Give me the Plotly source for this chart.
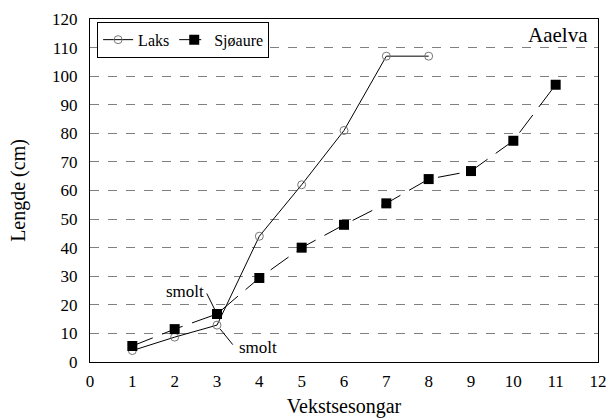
import plotly.graph_objects as go

seasons_laks = [1, 2, 3, 4, 5, 6, 7, 8]
laks = [4, 8.7, 12.9, 44, 62, 81, 107, 107]
seasons_sjo = [1, 2, 3, 4, 5, 6, 7, 8, 9, 10, 11]
sjoaure = [5.6, 11.5, 16.8, 29.4, 40, 48, 55.5, 64, 66.8, 77.4, 97]

font = "Liberation Serif"

fig = go.Figure()
fig.add_trace(go.Scatter(
    x=seasons_laks, y=laks, name="Laks", mode="lines+markers",
    line=dict(color="black", width=1),
    marker=dict(symbol="circle-open", size=8, color="#777777", line=dict(width=1)),
))
fig.add_trace(go.Scatter(
    x=seasons_sjo, y=sjoaure, name="Sjøaure", mode="lines+markers",
    line=dict(color="black", width=1, dash="22px,10px"),
    marker=dict(symbol="square", size=10, color="black"),
))

ann = [
    dict(x=3, y=16.8, xref="x", yref="y", text="", showarrow=True, arrowhead=0,
         arrowwidth=1, arrowcolor="black", ax=-11, ay=-22, standoff=2),
    dict(x=3, y=12.9, xref="x", yref="y", text="", showarrow=True, arrowhead=0,
         arrowwidth=1, arrowcolor="black", ax=17, ay=21, standoff=5),
    dict(x=2.24, y=24.8, xref="x", yref="y", text="smolt", showarrow=False,
         font=dict(family=font, size=17, color="black")),
    dict(x=3.97, y=5.2, xref="x", yref="y", text="smolt", showarrow=False,
         font=dict(family=font, size=17, color="black")),
    dict(x=0.985, y=0.995, xref="paper", yref="paper", text="Aaelva", showarrow=False,
         xanchor="right", yanchor="top", font=dict(family=font, size=21, color="black")),
]

fig.update_layout(
    width=608, height=418,
    margin=dict(l=90, r=10, t=19, b=56, autoexpand=False),
    paper_bgcolor="white", plot_bgcolor="white",
    font=dict(family=font, size=17, color="black"),
    showlegend=True,
    legend=dict(x=0.014, y=0.992, xanchor="left", yanchor="top", orientation="h",
                bordercolor="black", borderwidth=1, bgcolor="white",
                font=dict(family=font, size=16, color="black"),
                itemwidth=30, tracegroupgap=0,
                ),
    annotations=ann,
    xaxis=dict(range=[0, 12], dtick=1, tick0=0, showgrid=False, zeroline=False,
               showline=True, linecolor="black", linewidth=1, mirror=True,
               ticks="outside", ticklen=4, tickcolor="rgba(0,0,0,0)",
               automargin=False, ticklabeloverflow="allow",
               title=dict(text="Vekstsesongar", font=dict(family=font, size=20), standoff=18),
               tickfont=dict(family=font, size=17)),
    yaxis=dict(range=[0, 120], dtick=10, tick0=0, showgrid=True, gridcolor="#808080",
               griddash="dash", gridwidth=1, zeroline=False,
               showline=True, linecolor="black", linewidth=1, mirror=True,
               ticks="outside", ticklen=8, tickcolor="rgba(0,0,0,0)",
               automargin=False, ticklabeloverflow="allow",
               title=dict(text="Lengde (cm)", font=dict(family=font, size=20), standoff=21),
               tickfont=dict(family=font, size=17)),
)

fig.write_html("out.html", config={"displayModeBar": False},
               post_script="document.body.style.margin='0';document.body.style.overflow='hidden';")
